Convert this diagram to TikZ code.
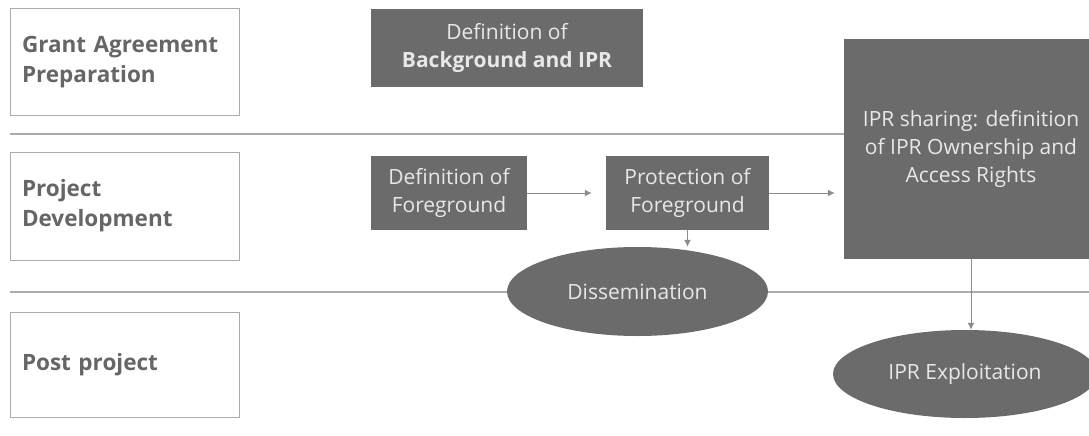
\documentclass[tikz,border=0pt]{standalone}
\usepackage{fontspec}
\setmainfont{Open Sans}
\usetikzlibrary{shapes.geometric,arrows.meta}
\definecolor{boxgray}{HTML}{6B6B6B}
\definecolor{textgray}{HTML}{666666}
\definecolor{linegray}{HTML}{ABABAB}
\definecolor{lightfont}{HTML}{E8E8E8}

\begin{document}
\begin{tikzpicture}[x=1pt,y=-1pt,
  lane/.style={draw=linegray,line width=1pt,minimum width=229pt,text width=205pt,
    align=left,text=textgray,font=\fontsize{22.5}{30}\selectfont\bfseries},
  phasebox/.style={fill=boxgray,text=lightfont,align=center,
    font=\fontsize{21}{28}\selectfont},
  phaseoval/.style={ellipse,fill=boxgray,text=lightfont,inner sep=0pt,
    font=\fontsize{21}{28}\selectfont},
  flow/.style={draw=gray!90,line width=1pt,-{Latex[length=7pt,width=7pt]}},
  sep/.style={draw=linegray,line width=1.2pt}]
\useasboundingbox (0,0) rectangle (1089,436);
% separators between phases
\draw[sep] (10,134) -- (1089,134);
\draw[sep] (10,292) -- (1089,292);
% phase labels
\node[lane,minimum height=106pt] (gap) at (124.5,62) {Grant Agreement\\Preparation};
\node[lane,minimum height=108pt] (dev) at (124.5,206) {Project\\Development};
\node[lane,minimum height=105pt] (post) at (124.5,364.5) {Post project};
% boxes
\node[phasebox,minimum width=272pt,minimum height=78pt] (bgipr) at (507,48)
  {Definition of\\\textbf{Background and IPR}};
\node[phasebox,minimum width=156pt,minimum height=74pt] (deffg) at (449,193)
  {Definition of\\Foreground};
\node[phasebox,minimum width=163pt,minimum height=74pt] (protfg) at (687.5,193)
  {Protection of\\Foreground};
\node[phasebox,minimum width=254pt,minimum height=220pt] (share) at (971,149)
  {IPR sharing: definition\\of IPR Ownership and\\Access Rights};
\node[phaseoval,minimum width=261pt,minimum height=89pt] (dissem) at (637.5,291.5)
  {Dissemination};
\node[phaseoval,minimum width=264pt,minimum height=88pt] (exploit) at (965,374)
  {IPR Exploitation};
% arrows
\draw[flow,shorten >=14pt] (deffg) -- (protfg);
\draw[flow,shorten >=9pt] (protfg) -- (share.west |- protfg);
\draw[flow] (protfg.south) -- (protfg.south |- dissem.north);
\draw[flow] (share.south) -- (share.south |- exploit.north);
\end{tikzpicture}
\end{document}
